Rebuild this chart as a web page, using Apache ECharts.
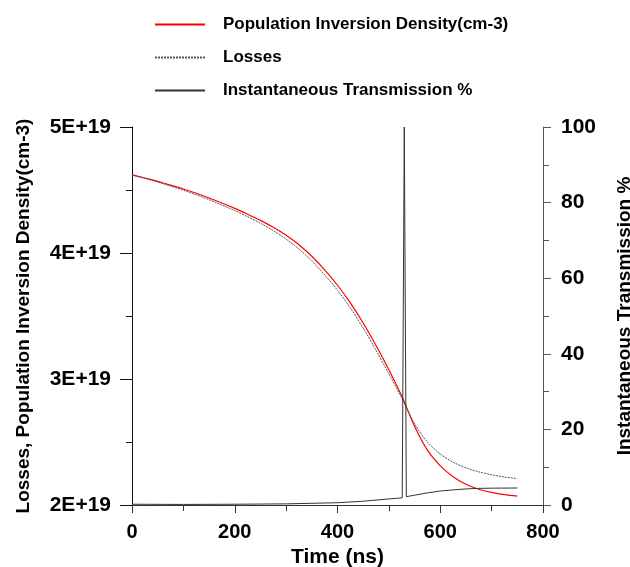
<!DOCTYPE html>
<html>
<head>
<meta charset="utf-8">
<script src="https://cdn.jsdelivr.net/npm/echarts@6/dist/echarts.min.js"></script>
<style>
  html, body { margin: 0; padding: 0; background: #fff; }
  #chart { width: 630px; height: 567px; }
</style>
</head>
<body>
<div id="chart"></div>
<script>
// time (ns) for the density curves
var timeNs = [0, 25, 50, 75, 100, 125, 150, 175, 200, 225, 250, 275, 300, 325, 350, 375, 400, 425, 450, 475, 500, 525, 550, 575, 600, 625, 650, 675, 700, 725, 750];
// population inversion density (cm-3)
var inversion = [4.62e19, 4.595e19, 4.568e19, 4.539e19, 4.508e19, 4.474e19, 4.437e19, 4.397e19, 4.354e19, 4.308e19, 4.259e19, 4.204e19, 4.141e19, 4.066e19, 3.974e19, 3.866e19, 3.744e19, 3.604e19, 3.444e19, 3.266e19, 3.074e19, 2.865e19, 2.625e19, 2.435e19, 2.31e19, 2.225e19, 2.165e19, 2.125e19, 2.10e19, 2.082e19, 2.07e19];
// losses (cm-3)
var losses = [4.62e19, 4.592e19, 4.563e19, 4.531e19, 4.498e19, 4.462e19, 4.423e19, 4.381e19, 4.336e19, 4.288e19, 4.236e19, 4.177e19, 4.11e19, 4.031e19, 3.936e19, 3.826e19, 3.704e19, 3.564e19, 3.404e19, 3.228e19, 3.041e19, 2.85e19, 2.645e19, 2.50e19, 2.405e19, 2.34e19, 2.295e19, 2.263e19, 2.24e19, 2.222e19, 2.21e19];
// instantaneous transmission %
var timeTr = [0, 100, 200, 300, 400, 450, 500, 526, 530, 534, 550, 575, 600, 625, 650, 675, 700, 750];
var transmission = [0.2, 0.15, 0.2, 0.3, 0.6, 1.0, 1.6, 1.9, 100, 2.2, 2.6, 3.2, 3.7, 4.0, 4.25, 4.4, 4.45, 4.5];

var xTicks = [0, 200, 400, 600, 800];

function pairs(xs, ys) {
  return xs.map(function (x, i) { return [x, ys[i]]; });
}

var font = 'Liberation Sans, Arial, sans-serif';
var chart = echarts.init(document.getElementById('chart'));

chart.setOption({
  animation: false,
  backgroundColor: '#fff',
  textStyle: { fontFamily: font },
  legend: {
    orient: 'vertical',
    left: 149,
    top: 11,
    itemWidth: 50,
    itemHeight: 14,
    itemGap: 16,
    itemStyle: { opacity: 0 },
    textStyle: { fontFamily: font, fontWeight: 'bold', fontSize: 17, color: '#000', padding: [0, 0, 0, 13] },
    data: ['Population Inversion Density(cm-3)', 'Losses', 'Instantaneous Transmission %']
  },
  grid: { left: 132, right: 87, top: 127, bottom: 62, outerBoundsMode: 'none' },
  xAxis: {
    type: 'value',
    min: 0, max: 800, interval: 200,
    name: 'Time (ns)',
    nameLocation: 'middle',
    nameGap: 41,
    nameTextStyle: { fontFamily: font, fontWeight: 'bold', fontSize: 21, color: '#000' },
    axisLine: { show: true, onZero: false, lineStyle: { color: '#333', width: 1 } },
    axisTick: { show: true, length: 8, lineStyle: { color: '#333' } },
    minorTick: { show: true, splitNumber: 2, length: 6, lineStyle: { color: '#333' } },
    splitLine: { show: false },
    axisLabel: { fontFamily: font, fontWeight: 'bold', fontSize: 20, color: '#000', margin: 17,
      formatter: function (v) { return xTicks.indexOf(v) >= 0 ? String(v) : ''; } }
  },
  yAxis: [{
    type: 'value',
    min: 2e19, max: 5e19, interval: 1e19,
    name: 'Losses, Population Inversion Density(cm-3)',
    nameLocation: 'middle',
    nameGap: 99,
    nameTextStyle: { fontFamily: font, fontWeight: 'bold', fontSize: 19, color: '#000' },
    axisLine: { show: true, lineStyle: { color: '#111', width: 1 } },
    axisTick: { show: true, length: 12, lineStyle: { color: '#111' } },
    minorTick: { show: true, splitNumber: 2, length: 6, lineStyle: { color: '#111' } },
    splitLine: { show: false },
    axisLabel: { fontFamily: font, fontWeight: 'bold', fontSize: 21, color: '#000', margin: 21,
      formatter: function (v) { return Math.round(v / 1e19) + 'E+19'; } }
  }, {
    type: 'value',
    min: 0, max: 100, interval: 20,
    name: 'Instantaneous Transmission %',
    nameLocation: 'middle',
    nameGap: 72,
    nameRotate: 90,
    nameTextStyle: { fontFamily: font, fontWeight: 'bold', fontSize: 19, color: '#000' },
    axisLine: { show: true, lineStyle: { color: '#555', width: 1 } },
    axisTick: { show: true, length: 8, lineStyle: { color: '#555' } },
    minorTick: { show: true, splitNumber: 2, length: 6, lineStyle: { color: '#555' } },
    splitLine: { show: false },
    axisLabel: { fontFamily: font, fontWeight: 'bold', fontSize: 21, color: '#000', margin: 18 }
  }],
  series: [{
    name: 'Population Inversion Density(cm-3)',
    type: 'line',
    smooth: 0.3,
    symbol: 'none',
    yAxisIndex: 0,
    lineStyle: { color: '#ff0000', width: 1.2 },
    itemStyle: { color: '#ff0000' },
    data: pairs(timeNs, inversion)
  }, {
    name: 'Losses',
    type: 'line',
    smooth: 0.3,
    symbol: 'none',
    yAxisIndex: 0,
    lineStyle: { color: '#555', width: 1, type: [2, 1] },
    itemStyle: { color: '#555' },
    data: pairs(timeNs, losses)
  }, {
    name: 'Instantaneous Transmission %',
    type: 'line',
    symbol: 'none',
    yAxisIndex: 1,
    lineStyle: { color: '#333', width: 1 },
    itemStyle: { color: '#333' },
    data: pairs(timeTr, transmission)
  }]
});
</script>
</body>
</html>
